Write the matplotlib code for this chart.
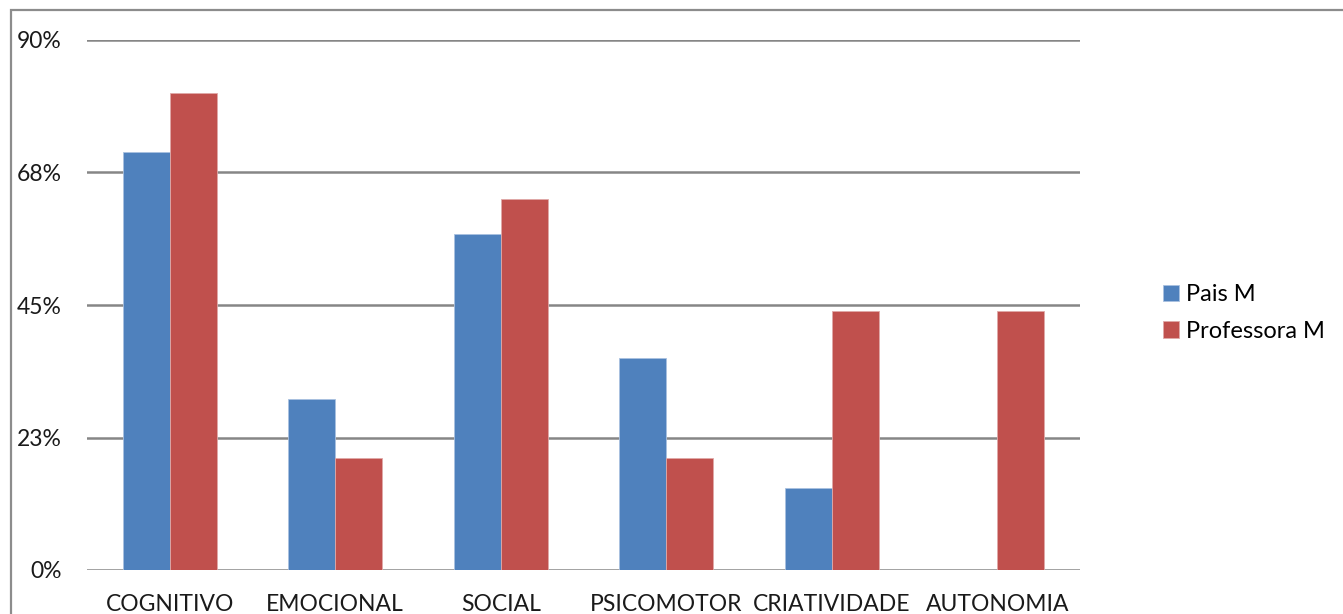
import matplotlib.pyplot as plt
import matplotlib.patches as patches
import numpy as np

categories = ['COGNITIVO', 'EMOCIONAL', 'SOCIAL', 'PSICOMOTOR', 'CRIATIVIDADE', 'AUTONOMIA']
pais = [0.71, 0.29, 0.57, 0.36, 0.14, 0.0]
professora = [0.81, 0.19, 0.63, 0.19, 0.44, 0.44]
yticks = [0, 0.225, 0.45, 0.675, 0.9]
ytick_labels = ['0%', '23%', '45%', '68%', '90%']

plt.rcParams['font.family'] = ['Lato', 'DejaVu Sans']

fig = plt.figure(figsize=(13.43, 6.14), dpi=100)
ax = fig.add_axes([87/1343, 44/614, (1080-87)/1343, 530/614])

# outer frame of the chart area
frame = patches.Rectangle((11/1343, -0.1), 1.2, (604/614) + 0.1, transform=fig.transFigure,
                          fill=False, edgecolor='#8c8c8c', linewidth=1.6)
fig.patches.append(frame)

x = np.arange(len(categories))
w = 0.284
ax.bar(x - w/2, pais, w, color='#4F81BD', edgecolor='#a9c1e0', linewidth=0.6, label='Pais M', zorder=3)
ax.bar(x + w/2, professora, w, color='#C0504D', edgecolor='#e0a9a8', linewidth=0.6, label='Professora M', zorder=3)

ax.set_xlim(-0.5, len(categories) - 0.5)
ax.set_ylim(0, 0.9)
ax.set_yticks(yticks)
ax.set_yticklabels(ytick_labels)
ax.set_xticks(x)
ax.set_xticklabels(categories)
ax.grid(axis='y', color='#868686', linewidth=1.8, zorder=0)
ax.set_axisbelow(True)
for s in ax.spines.values():
    s.set_visible(False)
ax.tick_params(axis='both', length=0, labelsize=16.5, colors='#1a1a1a')
ax.tick_params(axis='y', pad=18)
ax.tick_params(axis='x', pad=17)

ax.legend(loc='center left', bbox_to_anchor=(1.062, 0.485), frameon=False, fontsize=17,
          handlelength=0.7, handleheight=0.7, handletextpad=0.3, labelspacing=0.65)

fig.savefig('out.png', dpi=100)
